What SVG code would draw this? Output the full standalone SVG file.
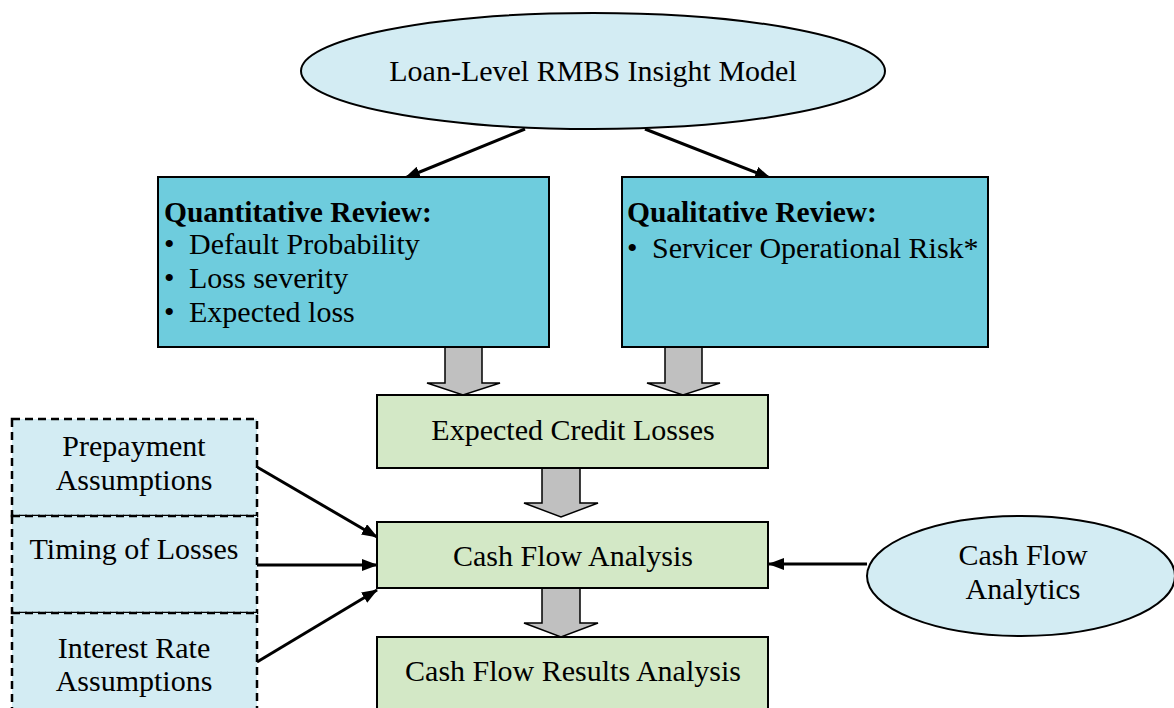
<svg xmlns="http://www.w3.org/2000/svg" width="1174" height="708" viewBox="0 0 1174 708">
<style>
text{font-family:"Liberation Serif","Times New Roman",serif;font-size:30px;fill:#000}
.c{text-anchor:middle}
.b{font-weight:bold;font-size:29.5px}
.ell{fill:#D3ECF3;stroke:#000;stroke-width:2}
.dash{fill:#D3ECF3;stroke:#000;stroke-width:2.5;stroke-dasharray:8,5}
.rev{fill:#6ECCDD;stroke:#000;stroke-width:2}
.grn{fill:#D3E8C6;stroke:#000;stroke-width:2}
.blk{fill:#C0C0C0;stroke:#000;stroke-width:1.5}
.ln{stroke:#000;stroke-width:3;fill:none}
</style>
<defs>
<marker id="ah" viewBox="0 0 16 12" refX="15" refY="6" markerWidth="16" markerHeight="12" markerUnits="userSpaceOnUse" orient="auto">
<path d="M0,0 L16,6 L0,12 Z" fill="#000"/>
</marker>
</defs>
<g id="connectors">
<line class="ln" x1="525" y1="129" x2="405" y2="178" marker-end="url(#ah)"/>
<line class="ln" x1="645" y1="129" x2="770" y2="178" marker-end="url(#ah)"/>
<line class="ln" x1="257" y1="467" x2="377" y2="537" marker-end="url(#ah)"/>
<line class="ln" x1="257" y1="565" x2="377" y2="565" marker-end="url(#ah)"/>
<line class="ln" x1="257" y1="662" x2="377" y2="590" marker-end="url(#ah)"/>
<line class="ln" x1="867" y1="564" x2="769" y2="564" marker-end="url(#ah)"/>
<path class="blk" d="M445,347 L482,347 L482,383 L500,383 L463,395 L427,383 L445,383 Z"/>
<path class="blk" d="M665,347 L702,347 L702,383 L720,383 L683,395 L647,383 L665,383 Z"/>
<path class="blk" d="M542,468 L580,468 L580,503 L598,503 L561,517 L524,503 L542,503 Z"/>
<path class="blk" d="M542,588 L580,588 L580,623 L598,623 L561,637 L524,623 L542,623 Z"/>
</g>
<g id="loan-model">
<ellipse class="ell" cx="593" cy="71" rx="292" ry="58"/>
<text class="c" x="593" y="81">Loan-Level RMBS Insight Model</text>
</g>
<g id="quantitative">
<rect class="rev" x="158" y="177" width="391" height="170"/>
<text class="b" x="164" y="222">Quantitative Review:</text>
<text x="164" y="254">•</text><text x="189" y="254">Default Probability</text>
<text x="164" y="288">•</text><text x="189" y="288">Loss severity</text>
<text x="164" y="322">•</text><text x="189" y="322">Expected loss</text>
</g>
<g id="qualitative">
<rect class="rev" x="622" y="177" width="366" height="170"/>
<text class="b" x="627" y="222">Qualitative Review:</text>
<text x="627" y="258">•</text><text x="652" y="258">Servicer Operational Risk*</text>
</g>
<g id="expected-credit-losses">
<rect class="grn" x="377" y="395" width="391" height="73"/>
<text class="c" x="573" y="440">Expected Credit Losses</text>
</g>
<g id="cash-flow-analysis">
<rect class="grn" x="377" y="522" width="391" height="66"/>
<text class="c" x="573" y="566">Cash Flow Analysis</text>
</g>
<g id="cash-flow-results">
<rect class="grn" x="377" y="637" width="391" height="80"/>
<text class="c" x="573" y="681">Cash Flow Results Analysis</text>
</g>
<g id="prepayment">
<rect class="dash" x="12" y="419" width="245" height="97"/>
<text class="c" x="134" y="456">Prepayment</text>
<text class="c" x="134" y="490">Assumptions</text>
</g>
<g id="timing">
<rect class="dash" x="12" y="516" width="245" height="97"/>
<text class="c" x="134" y="559">Timing of Losses</text>
</g>
<g id="interest-rate">
<rect class="dash" x="12" y="613" width="245" height="105"/>
<text class="c" x="134" y="658">Interest Rate</text>
<text class="c" x="134" y="691">Assumptions</text>
</g>
<g id="cash-flow-analytics">
<ellipse class="ell" cx="1021" cy="576" rx="154" ry="60"/>
<text class="c" x="1023" y="565">Cash Flow</text>
<text class="c" x="1023" y="599">Analytics</text>
</g>
</svg>
